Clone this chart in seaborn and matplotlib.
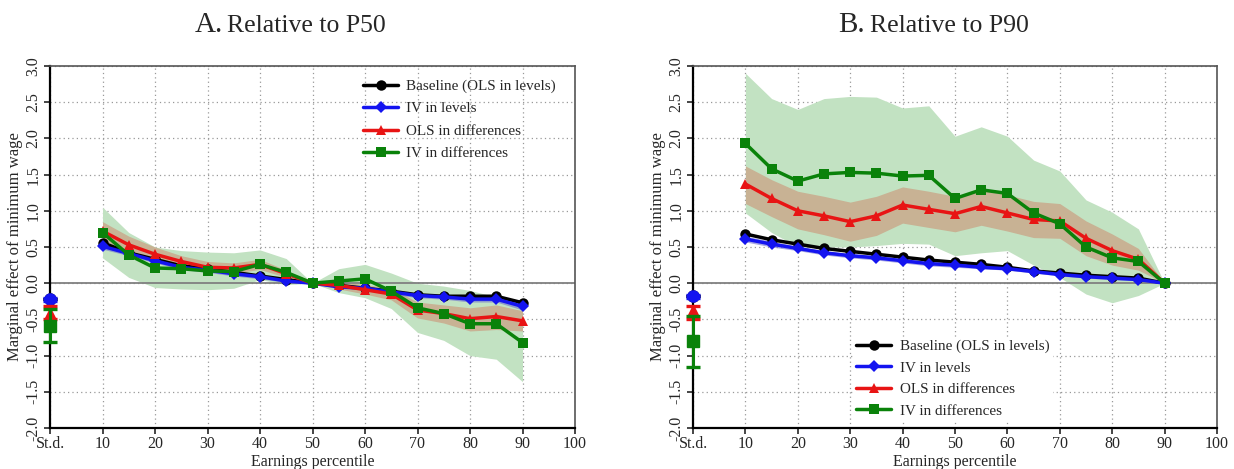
import numpy as np
import pandas as pd
import matplotlib
matplotlib.use("Agg")
import matplotlib.pyplot as plt
from matplotlib.lines import Line2D
import seaborn as sns

# ---------------- data ----------------
pctl = [10, 15, 20, 25, 30, 35, 40, 45, 50, 55, 60, 65, 70, 75, 80, 85, 90]
series_names = ["Baseline (OLS in levels)", "IV in levels", "OLS in differences", "IV in differences"]

# Panel A: relative to P50
black_A = [0.56, 0.42, 0.33, 0.24, 0.20, 0.15, 0.10, 0.05, 0.00, -0.03, -0.07, -0.11, -0.16, -0.18, -0.18, -0.18, -0.27]
blue_A = [0.51, 0.41, 0.31, 0.22, 0.18, 0.13, 0.09, 0.03, 0.00, -0.05, -0.07, -0.12, -0.17, -0.19, -0.22, -0.22, -0.32]
red_A = [0.72, 0.53, 0.40, 0.30, 0.22, 0.21, 0.26, 0.13, 0.00, -0.03, -0.09, -0.15, -0.37, -0.42, -0.49, -0.46, -0.52]
green_A = [0.70, 0.39, 0.21, 0.20, 0.17, 0.16, 0.26, 0.15, 0.00, 0.03, 0.06, -0.11, -0.34, -0.42, -0.56, -0.56, -0.82]
green_A_hi = [1.05, 0.70, 0.50, 0.45, 0.43, 0.42, 0.46, 0.34, 0.00, 0.20, 0.26, 0.14, 0.00, -0.04, -0.10, -0.19, -0.30]
green_A_lo = [0.35, 0.08, -0.06, -0.08, -0.09, -0.07, 0.05, -0.02, 0.00, -0.13, -0.20, -0.35, -0.68, -0.79, -1.00, -1.05, -1.36]
red_A_hi = [0.85, 0.65, 0.50, 0.38, 0.30, 0.28, 0.33, 0.18, 0.00, 0.02, -0.02, -0.07, -0.26, -0.30, -0.34, -0.30, -0.38]
red_A_lo = [0.60, 0.42, 0.30, 0.22, 0.15, 0.14, 0.19, 0.08, 0.00, -0.08, -0.15, -0.23, -0.48, -0.55, -0.66, -0.64, -0.66]
blue_A_hi = [0.55, 0.44, 0.34, 0.25, 0.21, 0.16, 0.12, 0.05, 0.00, -0.03, -0.05, -0.09, -0.14, -0.16, -0.18, -0.18, -0.26]
blue_A_lo = [0.47, 0.38, 0.28, 0.19, 0.15, 0.10, 0.06, 0.01, 0.00, -0.07, -0.09, -0.15, -0.20, -0.22, -0.26, -0.26, -0.37]
std_A = [-0.22, -0.22, -0.42, -0.59]
std_A_lo = [-0.22, -0.24, -0.50, -0.81]
std_A_hi = [-0.22, -0.20, -0.32, -0.36]

# Panel B: relative to P90
black_B = [0.68, 0.60, 0.54, 0.48, 0.44, 0.40, 0.36, 0.32, 0.29, 0.26, 0.22, 0.17, 0.14, 0.11, 0.09, 0.07, 0.00]
blue_B = [0.61, 0.54, 0.48, 0.42, 0.38, 0.35, 0.31, 0.27, 0.25, 0.22, 0.20, 0.16, 0.12, 0.09, 0.07, 0.05, 0.00]
red_B = [1.37, 1.17, 1.00, 0.93, 0.85, 0.93, 1.08, 1.02, 0.96, 1.06, 0.97, 0.88, 0.86, 0.62, 0.45, 0.33, 0.00]
green_B = [1.93, 1.58, 1.41, 1.51, 1.53, 1.52, 1.48, 1.49, 1.17, 1.29, 1.24, 0.97, 0.82, 0.50, 0.35, 0.30, 0.00]
green_B_hi = [2.90, 2.55, 2.40, 2.55, 2.58, 2.57, 2.42, 2.45, 2.03, 2.16, 2.03, 1.70, 1.55, 1.15, 0.98, 0.75, 0.00]
green_B_lo = [0.97, 0.70, 0.50, 0.50, 0.50, 0.52, 0.55, 0.54, 0.38, 0.42, 0.45, 0.25, 0.08, -0.15, -0.27, -0.17, 0.00]
red_B_hi = [1.62, 1.43, 1.27, 1.20, 1.12, 1.20, 1.33, 1.27, 1.20, 1.30, 1.22, 1.13, 1.10, 0.86, 0.68, 0.48, 0.00]
red_B_lo = [1.10, 0.92, 0.75, 0.67, 0.58, 0.66, 0.83, 0.77, 0.71, 0.80, 0.72, 0.63, 0.62, 0.38, 0.25, 0.18, 0.00]
blue_B_hi = [0.65, 0.58, 0.51, 0.45, 0.41, 0.38, 0.34, 0.30, 0.27, 0.24, 0.22, 0.18, 0.14, 0.11, 0.09, 0.06, 0.00]
blue_B_lo = [0.57, 0.50, 0.45, 0.39, 0.35, 0.32, 0.28, 0.24, 0.22, 0.20, 0.18, 0.14, 0.10, 0.07, 0.05, 0.04, 0.00]
std_B = [-0.18, -0.18, -0.38, -0.80]
std_B_lo = [-0.18, -0.20, -0.49, -1.16]
std_B_hi = [-0.18, -0.16, -0.32, -0.45]

x_ticks = [0, 10, 20, 30, 40, 50, 60, 70, 80, 90, 100]
x_ticklabels = ["St.d.", "10", "20", "30", "40", "50", "60", "70", "80", "90", "100"]
y_ticks = [-2.0, -1.5, -1.0, -0.5, 0.0, 0.5, 1.0, 1.5, 2.0, 2.5, 3.0]
titles = [("A.", "Relative to P50"), ("B.", "Relative to P90")]

# ---------------- style ----------------
sns.set_style("white")
plt.rcParams["font.family"] = ["Liberation Serif", "DejaVu Serif"]

colors = ["#000000", "#1414f0", "#e81414", "#0a820a"]
markers = ["o", "D", "^", "s"]
msizes = [7.5, 6.5, 7.5, 7.5]
fill_green = "#c2e2c2"
fill_red = "#c8b294"
fill_blue = "#6c6cd0"

fig = plt.figure(figsize=(12.34, 4.69), dpi=100)
axA = fig.add_axes([50 / 1234, 41 / 469, 525 / 1234, 362 / 469])
axB = fig.add_axes([693 / 1234, 41 / 469, 524 / 1234, 362 / 469])

panels = [
    (axA, [black_A, blue_A, red_A, green_A], (green_A_lo, green_A_hi), (red_A_lo, red_A_hi),
     (blue_A_lo, blue_A_hi), (std_A, std_A_lo, std_A_hi)),
    (axB, [black_B, blue_B, red_B, green_B], (green_B_lo, green_B_hi), (red_B_lo, red_B_hi),
     (blue_B_lo, blue_B_hi), (std_B, std_B_lo, std_B_hi)),
]

for i, (ax, vals, gband, rband, bband, stds) in enumerate(panels):
    ax.set_xlim(0, 100)
    ax.set_ylim(-2.0, 3.0)
    ax.set_xticks(x_ticks)
    ax.set_xticklabels(x_ticklabels)
    ax.set_yticks(y_ticks)
    ax.set_yticklabels([f"{v:.1f}" for v in y_ticks], rotation=90, va="center")
    ax.grid(True, linestyle=(0, (1, 2.5)), color="#999999", linewidth=0.9)
    ax.set_axisbelow(True)
    ax.axhline(0, color="#808080", linewidth=1.3, zorder=1.5)

    ax.fill_between(pctl, gband[0], gband[1], color=fill_green, linewidth=0, zorder=1)
    ax.fill_between(pctl, rband[0], rband[1], color=fill_red, linewidth=0, zorder=1.2)
    ax.fill_between(pctl, bband[0], bband[1], color=fill_blue, alpha=0.6, linewidth=0, zorder=1.3)

    for k, name in enumerate(series_names):
        df = pd.DataFrame({"pctl": pctl, "val": vals[k]})
        sns.lineplot(data=df, x="pctl", y="val", ax=ax, color=colors[k], marker=markers[k],
                     markersize=msizes[k], markeredgewidth=0, linewidth=2.5, zorder=3 + k,
                     legend=False)

    # standard-deviation effects at "St.d."
    s, lo, hi = stds
    for k in range(4):
        mk = "o" if k == 1 else markers[k]
        cont = ax.errorbar([0], [s[k]], yerr=[[s[k] - lo[k]], [hi[k] - s[k]]], fmt=mk,
                           color=colors[k], markersize=8, markeredgecolor=colors[k],
                           elinewidth=2.2, capsize=5, capthick=2.4, zorder=6 + k,
                           clip_on=False)
        for art in cont.get_children():
            art.set_clip_on(False)
            art.set_zorder(6 + k)

    ax.set_xlabel("Earnings percentile", fontsize=11.5, labelpad=1)
    ax.set_ylabel("Marginal effect of minimum wage", fontsize=12, labelpad=2)
    ax.tick_params(axis="both", labelsize=11.5, direction="out", length=4, width=1.2,
                   left=True, bottom=True, pad=2)
    for side in ["left", "bottom"]:
        ax.spines[side].set_color("black")
        ax.spines[side].set_linewidth(1.6)
    for side in ["top", "right"]:
        ax.spines[side].set_color("#555555")
        ax.spines[side].set_linewidth(1.2)
        ax.spines[side].set_visible(True)

    handles = [Line2D([], [], color=colors[k], marker=markers[k], markersize=msizes[k],
                      markeredgewidth=0, linewidth=2.5) for k in range(4)]
    if i == 0:
        leg = ax.legend(handles, series_names, loc="upper left", bbox_to_anchor=(0.585, 0.98),
                        fontsize=10.9, handlelength=2.3, handletextpad=0.55, labelspacing=0.58,
                        frameon=False, borderaxespad=0)
    else:
        leg = ax.legend(handles, series_names, loc="lower left", bbox_to_anchor=(0.306, 0.02),
                        fontsize=10.9, handlelength=2.3, handletextpad=0.6, labelspacing=0.52,
                        frameon=True, facecolor="white", edgecolor="none", framealpha=1,
                        borderpad=0.2, borderaxespad=0)
    leg.set_zorder(20)

    # title: larger letter + text
    tx = 0.442
    ax.text(tx - 0.14, 1.094, titles[i][0], transform=ax.transAxes, ha="center", va="baseline",
            fontsize=21)
    ax.text(tx - 0.105, 1.094, titles[i][1], transform=ax.transAxes, ha="left", va="baseline",
            fontsize=18.5)

fig.savefig("out.png", dpi=100)
